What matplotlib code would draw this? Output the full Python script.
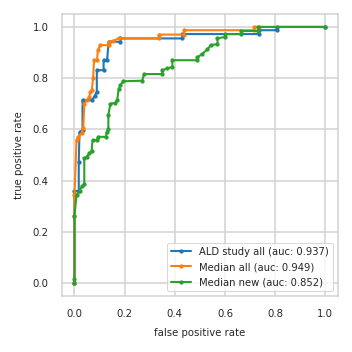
import matplotlib
matplotlib.use('Agg')
import matplotlib.pyplot as plt
import seaborn as sns

# ROC points
ald_fpr = [0.0, 0.0, 0.017, 0.017, 0.020, 0.032, 0.032, 0.069, 0.080, 0.089,
           0.089, 0.116, 0.116, 0.130, 0.136, 0.183, 0.183, 0.430, 0.430,
           0.734, 0.734, 0.806, 0.806, 1.0]
ald_tpr = [0.0, 0.360, 0.360, 0.473, 0.588, 0.597, 0.714, 0.714, 0.730, 0.747,
           0.831, 0.831, 0.870, 0.870, 0.942, 0.942, 0.955, 0.955, 0.972,
           0.972, 0.987, 0.987, 1.0, 1.0]

med_all_fpr = [0.0, 0.0, 0.0, 0.008, 0.015, 0.028, 0.035, 0.039, 0.049, 0.059,
               0.063, 0.069, 0.074, 0.078, 0.090, 0.093, 0.103, 0.136, 0.136,
               0.155, 0.176, 0.336, 0.336, 0.437, 0.437, 0.717, 0.717, 0.734]
med_all_tpr = [0.0, 0.262, 0.344, 0.558, 0.571, 0.585, 0.604, 0.700, 0.714, 0.725,
               0.747, 0.753, 0.800, 0.870, 0.870, 0.909, 0.929, 0.929, 0.942,
               0.946, 0.955, 0.955, 0.970, 0.970, 0.987, 0.987, 1.0, 1.0]

med_new_fpr = [0.0, 0.0, 0.0, 0.008, 0.020, 0.030, 0.039, 0.039, 0.048, 0.059,
               0.068, 0.072, 0.088, 0.095, 0.125, 0.128, 0.135, 0.135, 0.143,
               0.163, 0.170, 0.176, 0.183, 0.194, 0.270, 0.277, 0.350, 0.350,
               0.370, 0.390, 0.390, 0.490, 0.490, 0.510, 0.530, 0.543, 0.570,
               0.570, 0.600, 0.600, 0.664, 0.664, 0.733, 0.733, 1.0]
med_new_tpr = [0.0, 0.016, 0.262, 0.344, 0.360, 0.380, 0.386, 0.487, 0.493, 0.507,
               0.516, 0.558, 0.558, 0.571, 0.571, 0.588, 0.600, 0.656, 0.700,
               0.704, 0.714, 0.756, 0.773, 0.788, 0.790, 0.816, 0.816, 0.831,
               0.838, 0.844, 0.870, 0.870, 0.881, 0.896, 0.912, 0.929, 0.933,
               0.955, 0.961, 0.972, 0.972, 0.984, 0.984, 1.0, 1.0]

labels = ['ALD study all (auc: 0.937)',
          'Median all (auc: 0.949)',
          'Median new (auc: 0.852)']

sns.set_theme(style='whitegrid', context='paper')
plt.rcParams['font.family'] = ['DejaVu Sans']
plt.rcParams['axes.edgecolor'] = '#d3d3d3'
plt.rcParams['grid.color'] = '#d3d3d3'

fig = plt.figure(figsize=(4, 4), dpi=88)
ax = fig.add_axes([0.176, 0.159, 0.784, 0.801])

curves = [(ald_fpr, ald_tpr), (med_all_fpr, med_all_tpr), (med_new_fpr, med_new_tpr)]
colors = ['#1f77b4', '#ff7f0e', '#2ca02c']
for (fpr, tpr), lab, col in zip(curves, labels, colors):
    ax.plot(fpr, tpr, marker='.', markersize=5, linewidth=1.7,
            color=col, label=lab)

ax.grid(True, linewidth=1.3)
for sp in ax.spines.values():
    sp.set_linewidth(1.3)
ax.set_xticks([0.0, 0.2, 0.4, 0.6, 0.8, 1.0])
ax.set_yticks([0.0, 0.2, 0.4, 0.6, 0.8, 1.0])
ax.tick_params(labelsize=8.3, pad=6)
ax.set_xlabel('false positive rate', fontsize=8.3, labelpad=7)
ax.set_ylabel('true positive rate', fontsize=8.3, labelpad=7)
ax.legend(loc='lower right', fontsize=8.2)

fig.savefig('out.png', dpi=88)
